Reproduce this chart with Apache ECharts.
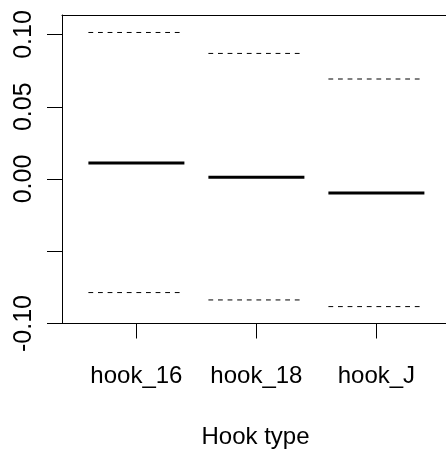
<!DOCTYPE html>
<html>
<head>
<meta charset="utf-8">
<script src="https://cdn.jsdelivr.net/npm/echarts@6/dist/echarts.min.js"></script>
<style>
  html, body { margin: 0; padding: 0; background: #fff; }
  #chart { width: 446px; height: 450px; }
</style>
</head>
<body>
<div id="chart"></div>
<script>
// Hook types and their summary values (upper bound, centre, lower bound)
const hookTypes = ['hook_16', 'hook_18', 'hook_J'];
const upperValues = [0.1014, 0.0869, 0.0692];
const centreValues = [0.0111, 0.0012, -0.0097];
const lowerValues = [-0.0786, -0.0837, -0.0883];
const yTickValues = [-0.10, -0.05, 0.00, 0.05, 0.10];
const yLabelValues = [-0.10, 0.00, 0.05, 0.10];
const xTitle = 'Hook type';

const FONT = '"Liberation Sans", Arial, sans-serif';
const HALF_WIDTH = 0.4; // half length of each horizontal segment, in x units
const X_MIN = 0.38, X_MAX = 3.605;

function toPairs(values) {
  return values.map((v, i) => [i + 1, v]);
}

function segmentRenderer(lineWidth, dash) {
  return function (params, api) {
    const x = api.value(0);
    const y = api.value(1);
    const p0 = api.coord([x - HALF_WIDTH, y]);
    const p1 = api.coord([x + HALF_WIDTH, y]);
    return {
      type: 'line',
      shape: { x1: p0[0], y1: p0[1], x2: p1[0], y2: p1[1] },
      style: { stroke: '#000', lineWidth: lineWidth, lineDash: dash }
    };
  };
}

const axisLineStyle = { color: '#000', width: 1 };

const chart = echarts.init(document.getElementById('chart'), null, { renderer: 'canvas' });

chart.setOption({
  animation: false,
  backgroundColor: '#fff',
  textStyle: { fontFamily: FONT },
  grid: {
    left: 62, top: 15, width: 387, bottom: 126.5,
    outerBoundsMode: 'none',
    containLabel: false,
    show: false
  },
  xAxis: [
    {
      type: 'value',
      position: 'bottom',
      min: X_MIN, max: X_MAX,
      splitLine: { show: false },
      axisLine: { show: true, onZero: false, lineStyle: axisLineStyle },
      axisTick: {
        show: true, inside: false, length: 15,
        customValues: [1, 2, 3],
        lineStyle: axisLineStyle
      },
      axisLabel: {
        customValues: [1, 2, 3],
        formatter: v => hookTypes[Math.round(v) - 1] || '',
        color: '#000', fontSize: 24, fontFamily: FONT, margin: 41
      },
      name: xTitle,
      nameLocation: 'middle',
      nameGap: 102,
      nameTextStyle: { color: '#000', fontSize: 24, fontFamily: FONT }
    },
    {
      // top edge of the plot frame
      type: 'value',
      position: 'top',
      min: X_MIN, max: X_MAX,
      splitLine: { show: false },
      axisLine: { show: true, onZero: false, lineStyle: axisLineStyle },
      axisTick: { show: false },
      axisLabel: { show: false }
    }
  ],
  yAxis: {
    type: 'value',
    min: -0.10, max: 0.1135,
    splitLine: { show: false },
    axisLine: { show: true, onZero: false, lineStyle: axisLineStyle },
    axisTick: {
      show: true, inside: false, length: 15,
      customValues: yTickValues,
      lineStyle: axisLineStyle
    },
    axisLabel: {
      customValues: yLabelValues,
      rotate: 90,
      formatter: v => v.toFixed(2),
      color: '#000', fontSize: 25, fontFamily: FONT, margin: 25
    }
  },
  series: [
    {
      type: 'custom', name: 'upper',
      renderItem: segmentRenderer(1, [4.8, 4.8]),
      data: toPairs(upperValues)
    },
    {
      type: 'custom', name: 'centre',
      renderItem: segmentRenderer(3, null),
      data: toPairs(centreValues)
    },
    {
      type: 'custom', name: 'lower',
      renderItem: segmentRenderer(1, [4.8, 4.8]),
      data: toPairs(lowerValues)
    }
  ]
});
</script>
</body>
</html>
